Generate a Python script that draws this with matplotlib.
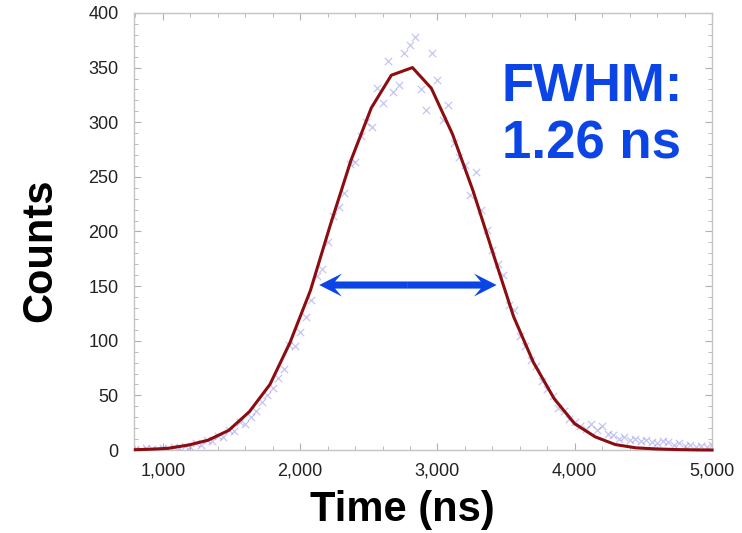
import matplotlib.pyplot as plt
from matplotlib.ticker import MultipleLocator, FuncFormatter

plt.rcParams['font.family'] = ['Liberation Sans', 'DejaVu Sans']

# measured counts (blue crosses)
time_ns = [800, 840, 880, 920, 960, 1000, 1040, 1080, 1120, 1160,
           1200, 1240, 1280, 1320, 1360, 1400, 1440, 1480, 1520, 1560,
           1600, 1640, 1680, 1720, 1760, 1800, 1840, 1880, 1920, 1960,
           2000, 2040, 2080, 2120, 2160, 2200, 2240, 2280, 2320, 2360,
           2400, 2440, 2480, 2520, 2560, 2600, 2640, 2680, 2720, 2760,
           2800, 2840, 2880, 2920, 2960, 3000, 3040, 3080, 3120, 3160,
           3200, 3240, 3280, 3320, 3360, 3400, 3440, 3480, 3520, 3560,
           3600, 3640, 3680, 3720, 3760, 3800, 3840, 3880, 3920, 3960,
           4000, 4040, 4080, 4120, 4160, 4200, 4240, 4280, 4320, 4360,
           4400, 4440, 4480, 4520, 4560, 4600, 4640, 4680, 4720, 4760,
           4800, 4840, 4880, 4920, 4960, 5000]
counts = [1, 0, 2, 1, 0, 2, 1, 3, 2, 4,
          3, 6, 5, 9, 8, 13, 12, 18, 17, 26,
          24, 30, 36, 44, 50, 57, 66, 74, 96, 95,
          108, 122, 137, 159, 166, 190, 214, 222, 235, 262,
          264, 287, 300, 296, 331, 318, 356, 328, 334, 363,
          371, 378, 330, 311, 363, 339, 302, 316, 281, 268,
          261, 233, 254, 220, 201, 183, 170, 160, 133, 128,
          104, 95, 82, 77, 63, 56, 49, 38, 36, 28,
          26, 22, 19, 24, 18, 22, 15, 14, 10, 12,
          9, 10, 8, 9, 7, 6, 8, 7, 5, 6,
          4, 5, 3, 4, 3, 5]

# fitted curve (dark red)
fit_time = [800, 890, 1035, 1185, 1330, 1480, 1630, 1780, 1925, 2075,
            2220, 2370, 2518, 2664, 2818, 2956, 3110, 3260, 3405, 3555,
            3700, 3850, 4000, 4150, 4295, 4445, 4590, 4740, 4890, 5000]
fit_counts = [0.3, 0.6, 1.5, 4.5, 9, 18, 35, 60, 98, 146,
              206, 265, 313, 343, 350, 331, 289, 237, 180, 122,
              80, 47, 24, 12, 5, 2, 1, 0.4, 0.1, 0]

fwhm_left = 2139
fwhm_right = 3431
half_max = 151

fig = plt.figure(figsize=(7.42, 5.33), dpi=100)
ax = fig.add_axes([0.1806, 0.1557, 0.779, 0.820])

ax.scatter(time_ns, counts, marker='x', s=28, color='#6f6fe0', alpha=0.4,
           linewidths=0.9, zorder=2)
ax.plot(fit_time, fit_counts, color='#8b0d10', lw=2.2, zorder=3, clip_on=False)

# double headed FWHM arrow
blue = '#0b45e6'
mid = (fwhm_left + fwhm_right) / 2
for end in (fwhm_left, fwhm_right):
    ax.arrow(mid, half_max, end - mid, 0, width=6.5, head_width=21,
             head_length=165, length_includes_head=True, overhang=0.3,
             color=blue, lw=0, zorder=4)

ax.text(3470, 319, 'FWHM:', color=blue, fontsize=38, fontweight='bold',
        va='baseline', ha='left')
ax.text(3470, 267, '1.26 ns', color=blue, fontsize=38, fontweight='bold',
        va='baseline', ha='left')

ax.set_xlim(790, 5000)
ax.set_ylim(0, 400)
ax.xaxis.set_major_locator(MultipleLocator(1000))
ax.xaxis.set_minor_locator(MultipleLocator(200))
ax.yaxis.set_major_locator(MultipleLocator(50))
ax.yaxis.set_minor_locator(MultipleLocator(10))
ax.xaxis.set_major_formatter(FuncFormatter(lambda v, p: '{:,.0f}'.format(v)))

for s in ax.spines.values():
    s.set_color('#c4c4c4')
    s.set_linewidth(1.0)
ax.tick_params(which='both', direction='in', top=True, right=True,
               color='#b0b0b0', labelcolor='#222222', labelsize=13)
ax.tick_params(which='major', length=5)
ax.tick_params(which='minor', length=3)
ax.tick_params(axis='y', pad=11)
ax.tick_params(axis='x', pad=9)

ax.set_xlabel('Time (ns)', fontsize=30, fontweight='bold')
ax.set_ylabel('Counts', fontsize=30, fontweight='bold')
ax.xaxis.set_label_coords(0.464, -0.137)
ax.yaxis.set_label_coords(-0.163, 0.458)
ax.xaxis.label.set_va('center')
ax.yaxis.label.set_va('center')

fig.savefig('out.png', dpi=100)
